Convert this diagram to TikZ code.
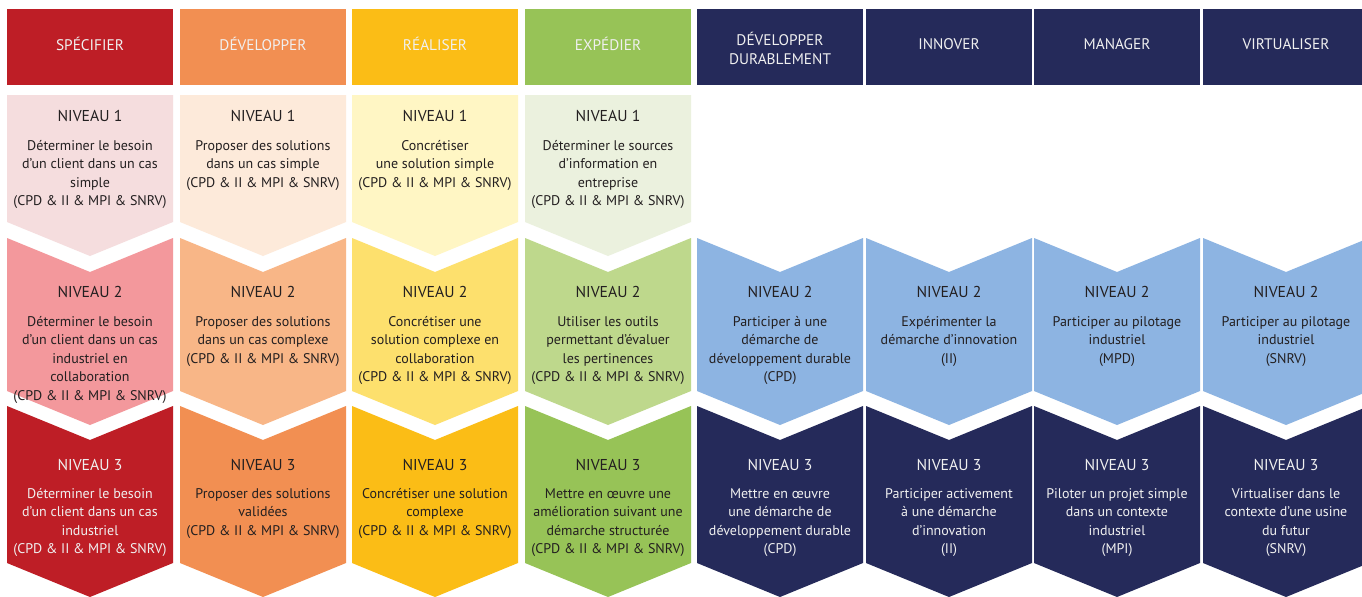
\documentclass[tikz,border=0pt]{standalone}
\usepackage{fontspec}
\setmainfont{PT Sans}
\definecolor{redD}{RGB}{190,30,38}
\definecolor{redM}{RGB}{243,152,156}
\definecolor{redL}{RGB}{245,221,222}
\definecolor{orD}{RGB}{242,143,82}
\definecolor{orM}{RGB}{248,182,135}
\definecolor{orL}{RGB}{253,234,218}
\definecolor{yeD}{RGB}{251,189,22}
\definecolor{yeM}{RGB}{253,224,109}
\definecolor{yeL}{RGB}{255,246,196}
\definecolor{grD}{RGB}{151,195,87}
\definecolor{grM}{RGB}{190,216,140}
\definecolor{grL}{RGB}{235,241,222}
\definecolor{navy}{RGB}{37,42,90}
\definecolor{sky}{RGB}{141,180,226}
\definecolor{ink}{RGB}{35,31,32}
\tikzset{
  headbox/.style={minimum width=124.5pt, minimum height=57pt, inner sep=0pt},
  head/.style={text=white!94!black, inner sep=0pt, align=center, font=\fontsize{11.5}{14.5}\selectfont},
  niv/.style={text=ink, inner sep=0pt, font=\fontsize{11.8}{14}\selectfont},
  txt/.style={text=ink, anchor=north, inner sep=0pt, align=center, font=\fontsize{10.5}{13.9}\selectfont},
  neg/.style={text=white!94!black},
}
% chevrons: #1 = left edge, #2 = colour
\newcommand{\chevA}[2]{\fill[#2] (#1,95) -- ++(166,0) -- ++(0,127) -- ++(-83,34) -- ++(-83,-34) -- cycle;}
\newcommand{\chevB}[2]{\fill[#2] (#1,238) -- ++(83,34) -- ++(83,-34) -- ++(0,153) -- ++(-83,34) -- ++(-83,-34) -- cycle;}
\newcommand{\chevC}[2]{\fill[#2] (#1,406) -- ++(83,34) -- ++(83,-34) -- ++(0,157) -- ++(-83,34) -- ++(-83,-34) -- cycle;}

\begin{document}
\begin{tikzpicture}[x=0.75pt,y=-0.75pt]
  \clip (0,0) rectangle (1362,596);
  \fill[white] (0,0) rectangle (1362,596);

  % headers
  \node[headbox, fill=redD] (spec) at (90,47) {};
  \node[headbox, fill=orD] (dev) at (263,47) {};
  \node[headbox, fill=yeD] (real) at (435,47) {};
  \node[headbox, fill=grD] (exp) at (608,47) {};
  \node[headbox, fill=navy] (dd) at (780,47) {};
  \node[headbox, fill=navy] (inno) at (949,47) {};
  \node[headbox, fill=navy] (man) at (1117,47) {};
  \node[headbox, fill=navy] (virt) at (1286,47) {};
  \node[head] (specl) at (90,44) {SPÉCIFIER};
  \node[head] (devl) at (263,44) {DÉVELOPPER};
  \node[head] (reall) at (435,44) {RÉALISER};
  \node[head] (expl) at (608,44) {EXPÉDIER};
  \node[head] (ddl) at (780,48.5) {DÉVELOPPER\\DURABLEMENT};
  \node[head] (innol) at (949,44) {INNOVER};
  \node[head] (manl) at (1117,44) {MANAGER};
  \node[head] (virtl) at (1286,44) {VIRTUALISER};

  % shapes
  \chevA{7}{redL} \chevA{180}{orL} \chevA{352}{yeL} \chevA{525}{grL}
  \chevB{7}{redM} \chevB{180}{orM} \chevB{352}{yeM} \chevB{525}{grM}
  \chevB{697}{sky} \chevB{866}{sky} \chevB{1034}{sky} \chevB{1203}{sky}
  \chevC{7}{redD} \chevC{180}{orD} \chevC{352}{yeD} \chevC{525}{grD}
  \chevC{697}{navy} \chevC{866}{navy} \chevC{1034}{navy} \chevC{1203}{navy}

  % niveau 1
  \node[niv] (spec1) at (90,116) {NIVEAU 1};
  \node[txt] (spec1t) at (90,140) {Déterminer le besoin\\d’un client dans un cas\\simple\\(CPD \& II \& MPI \& SNRV)};
  \node[niv] (dev1) at (263,116) {NIVEAU 1};
  \node[txt] (dev1t) at (263,140) {Proposer des solutions\\dans un cas simple\\(CPD \& II \& MPI \& SNRV)};
  \node[niv] (real1) at (435,116) {NIVEAU 1};
  \node[txt] (real1t) at (435,140) {Concrétiser\\une solution simple\\(CPD \& II \& MPI \& SNRV)};
  \node[niv] (exp1) at (608,116) {NIVEAU 1};
  \node[txt] (exp1t) at (608,140) {Déterminer le sources\\d’information en\\entreprise\\(CPD \& II \& MPI \& SNRV)};

  % niveau 2
  \node[niv] (spec2) at (90,292) {NIVEAU 2};
  \node[txt] (spec2t) at (90,316) {Déterminer le besoin\\d’un client dans un cas\\industriel en\\collaboration\\(CPD \& II \& MPI \& SNRV)};
  \node[niv] (dev2) at (263,292) {NIVEAU 2};
  \node[txt] (dev2t) at (263,316) {Proposer des solutions\\dans un cas complexe\\(CPD \& II \& MPI \& SNRV)};
  \node[niv] (real2) at (435,292) {NIVEAU 2};
  \node[txt] (real2t) at (435,316) {Concrétiser une\\solution complexe en\\collaboration\\(CPD \& II \& MPI \& SNRV)};
  \node[niv] (exp2) at (608,292) {NIVEAU 2};
  \node[txt] (exp2t) at (608,316) {Utiliser les outils\\permettant d’évaluer\\les pertinences\\(CPD \& II \& MPI \& SNRV)};
  \node[niv] (dd2) at (780,292) {NIVEAU 2};
  \node[txt] (dd2t) at (780,316) {Participer à une\\démarche de\\développement durable\\(CPD)};
  \node[niv] (inno2) at (949,292) {NIVEAU 2};
  \node[txt] (inno2t) at (949,316) {Expérimenter la\\démarche d’innovation\\(II)};
  \node[niv] (man2) at (1117,292) {NIVEAU 2};
  \node[txt] (man2t) at (1117,316) {Participer au pilotage\\industriel\\(MPD)};
  \node[niv] (virt2) at (1286,292) {NIVEAU 2};
  \node[txt] (virt2t) at (1286,316) {Participer au pilotage\\industriel\\(SNRV)};

  % niveau 3
  \node[niv, neg] (spec3) at (90,465) {NIVEAU 3};
  \node[txt, neg] (spec3t) at (90,488) {Déterminer le besoin\\d’un client dans un cas\\industriel\\(CPD \& II \& MPI \& SNRV)};
  \node[niv] (dev3) at (263,465) {NIVEAU 3};
  \node[txt] (dev3t) at (263,488) {Proposer des solutions\\validées\\(CPD \& II \& MPI \& SNRV)};
  \node[niv] (real3) at (435,465) {NIVEAU 3};
  \node[txt] (real3t) at (435,488) {Concrétiser une solution\\complexe\\(CPD \& II \& MPI \& SNRV)};
  \node[niv] (exp3) at (608,465) {NIVEAU 3};
  \node[txt] (exp3t) at (608,488) {Mettre en œuvre une\\amélioration suivant une\\démarche structurée\\(CPD \& II \& MPI \& SNRV)};
  \node[niv, neg] (dd3) at (780,465) {NIVEAU 3};
  \node[txt, neg] (dd3t) at (780,488) {Mettre en œuvre\\une démarche de\\développement durable\\(CPD)};
  \node[niv, neg] (inno3) at (949,465) {NIVEAU 3};
  \node[txt, neg] (inno3t) at (949,488) {Participer activement\\à une démarche\\d’innovation\\(II)};
  \node[niv, neg] (man3) at (1117,465) {NIVEAU 3};
  \node[txt, neg] (man3t) at (1117,488) {Piloter un projet simple\\dans un contexte\\industriel\\(MPI)};
  \node[niv, neg] (virt3) at (1286,465) {NIVEAU 3};
  \node[txt, neg] (virt3t) at (1286,488) {Virtualiser dans le\\contexte d’une usine\\du futur\\(SNRV)};
\end{tikzpicture}
\end{document}
